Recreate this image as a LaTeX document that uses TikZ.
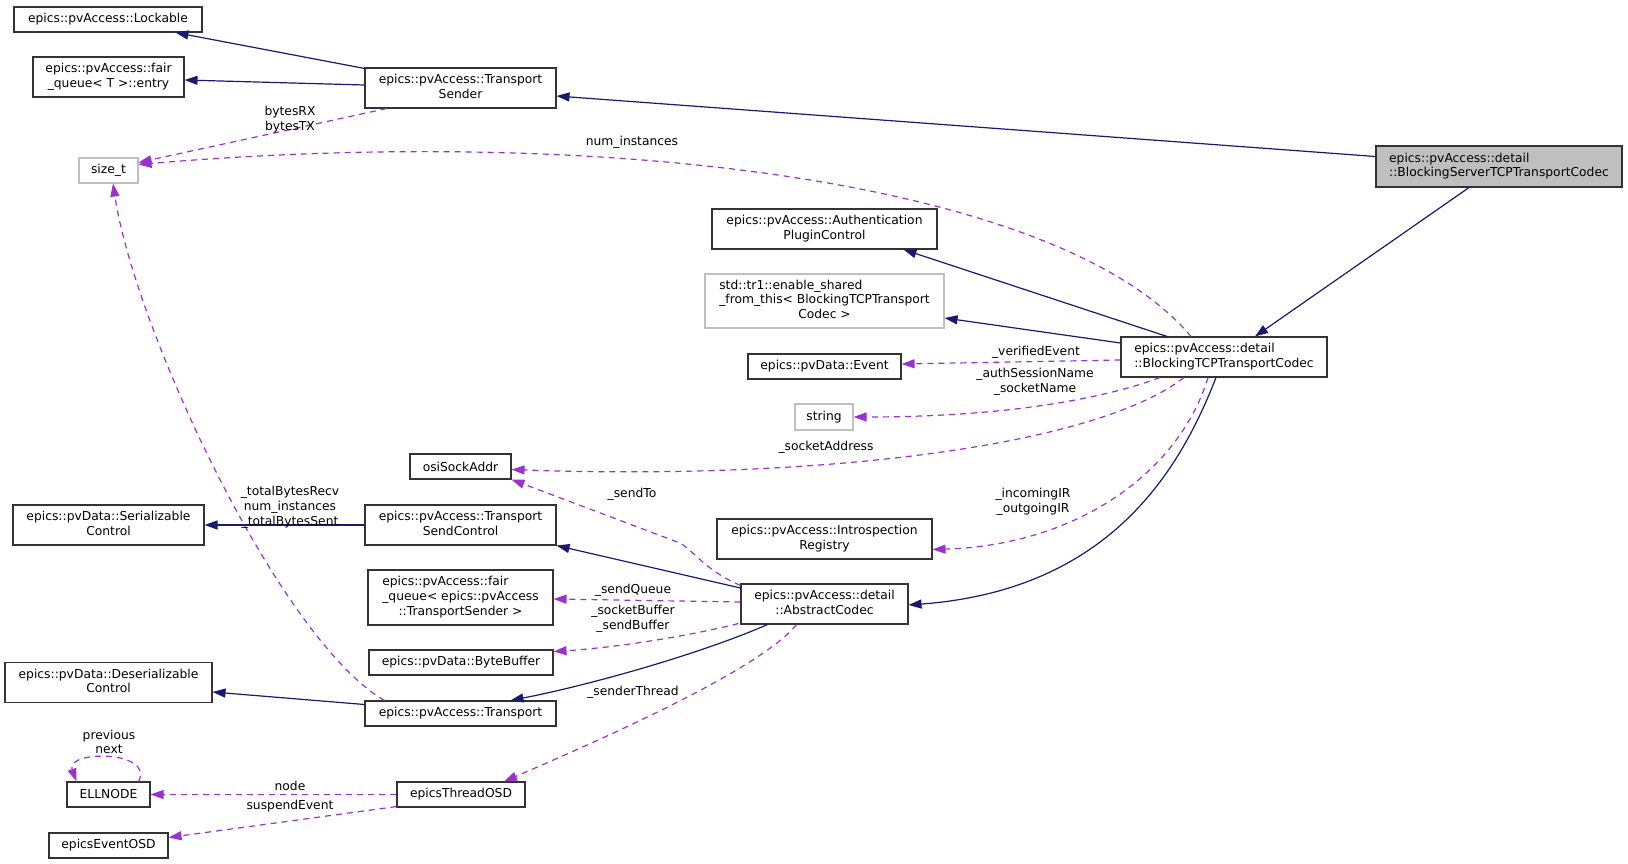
\documentclass[tikz,border=0pt]{standalone}
\usepackage{fontspec}
\setmainfont{DejaVu Sans}
\usetikzlibrary{arrows.meta,calc}
\definecolor{inhc}{HTML}{191970}
\definecolor{usec}{HTML}{9A32CD}
\definecolor{grayb}{HTML}{BFBFBF}
\definecolor{boxc}{HTML}{333333}
\newcommand{\twol}[2]{\begin{tabular}{@{}l@{}}#1\\\multicolumn{1}{@{}c@{}}{#2}\end{tabular}}
\newcommand{\threel}[3]{\begin{tabular}{@{}l@{}}#1\\#2\\\multicolumn{1}{@{}c@{}}{#3}\end{tabular}}
\tikzset{
  cls/.style={draw=boxc, line width=1.1pt, inner sep=0pt, font=\fontsize{12.3}{14.8}\selectfont, align=center},
  ext/.style={cls, draw=grayb},
  inh/.style={draw=inhc, line width=1.2pt, -{Triangle[length=13pt,width=9pt]}},
  use/.style={draw=usec, line width=1.2pt, dash pattern=on 6pt off 5pt, -{Triangle[length=13pt,width=9pt]}},
  lab/.style={font=\fontsize{12.3}{14.8}\selectfont, align=center, inner sep=0pt, text=black}
}
\begin{document}
\begin{tikzpicture}[x=1pt,y=-1pt]
\useasboundingbox (0,0) rectangle (1628,864);
% nodes
\node[cls, minimum width=188pt, minimum height=25pt] (lock) at (108,19.5) {epics::pvAccess::Lockable};
\node[cls, minimum width=151pt, minimum height=40pt] (entry) at (108.5,77) {\twol{epics::pvAccess::fair}{\_queue< T >::entry}};
\node[cls, minimum width=191pt, minimum height=40pt] (tsender) at (460.5,88) {\twol{epics::pvAccess::Transport}{Sender}};
\node[cls, fill=grayb, minimum width=246pt, minimum height=41pt] (bstc) at (1499,166.5) {\twol{epics::pvAccess::detail}{::BlockingServerTCPTransportCodec}};
\node[ext, minimum width=59pt, minimum height=25pt] (sizet) at (108.5,170.5) {size\_t};
\node[cls, minimum width=225pt, minimum height=40pt] (auth) at (824.5,229) {\twol{epics::pvAccess::Authentication}{PluginControl}};
\node[ext, minimum width=239pt, minimum height=54pt] (shared) at (824.5,301) {\threel{std::tr1::enable\_shared}{\_from\_this< BlockingTCPTransport}{Codec >}};
\node[cls, minimum width=153pt, minimum height=25pt] (event) at (824.5,366.5) {epics::pvData::Event};
\node[ext, minimum width=58pt, minimum height=26pt] (string) at (824,417) {string};
\node[cls, minimum width=206pt, minimum height=40pt] (btc) at (1224,357) {\twol{epics::pvAccess::detail}{::BlockingTCPTransportCodec}};
\node[cls, minimum width=101pt, minimum height=25pt] (osi) at (460.5,466.5) {osiSockAddr};
\node[cls, minimum width=191pt, minimum height=40pt] (ser) at (108.5,525) {\twol{epics::pvData::Serializable}{Control}};
\node[cls, minimum width=191pt, minimum height=40pt] (tsc) at (460.5,525) {\twol{epics::pvAccess::Transport}{SendControl}};
\node[cls, minimum width=185pt, minimum height=55pt] (fq) at (460.5,597.5) {\threel{epics::pvAccess::fair}{\_queue< epics::pvAccess}{::TransportSender >}};
\node[cls, minimum width=184pt, minimum height=25pt] (bb) at (461,662.5) {epics::pvData::ByteBuffer};
\node[cls, minimum width=207pt, minimum height=40pt] (deser) at (108.5,682.5) {\twol{epics::pvData::Deserializable}{Control}};
\node[cls, minimum width=191pt, minimum height=25pt] (transport) at (460.5,713.5) {epics::pvAccess::Transport};
\node[cls, minimum width=83pt, minimum height=25pt] (ell) at (108.5,794.5) {ELLNODE};
\node[cls, minimum width=128pt, minimum height=25pt] (thread) at (461,794.5) {epicsThreadOSD};
\node[cls, minimum width=119pt, minimum height=25pt] (eventosd) at (108.5,845.5) {epicsEventOSD};
\node[cls, minimum width=215pt, minimum height=40pt] (intro) at (824.5,539) {\twol{epics::pvAccess::Introspection}{Registry}};
\node[cls, minimum width=167pt, minimum height=40pt] (ac) at (824.5,604) {\twol{epics::pvAccess::detail}{::AbstractCodec}};
% inheritance edges
\draw[inh] ($(tsender.north west)+(0,1)$) -- ($(lock.south west)+(162,0)$);
\draw[inh] ($(tsender.west)+(0,-3)$) -- ($(entry.east)+(0,3)$);
\draw[inh] ($(bstc.west)+(0,-10)$) -- ($(tsender.east)+(0,8)$);
\draw[inh] ($(bstc.south)+(-30,0)$) -- ($(btc.north)+(31,0)$);
\draw[inh] ($(btc.north)+(-57,0)$) -- ($(auth.south)+(79,0)$);
\draw[inh] ($(btc.west)+(0,-14)$) -- ($(shared.east)+(0,17)$);
\draw[inh] ($(btc.south)+(-8,0)$) .. controls (1180,470) and (1110,590) .. ($(ac.east)+(0,1)$);
\draw[inh] ($(ac.west)+(0,-16)$) -- (tsc.south east);
\draw[inh] ($(ac.south)+(-57,0)$) .. controls (700,654) and (590,685) .. ($(transport.north)+(50,0)$);
\draw[inh] ($(transport.west)+(0,-9)$) -- ($(deser.east)+(0,9.5)$);
\draw[inh] (tsc.west) -- (ser.east);
% usage edges
\draw[use] ($(tsender.south)+(-74,0)$) -- ($(sizet.east)+(0,-8)$);
\node[lab] (lbytes) at (290,120) {bytesRX\\bytesTX};
\draw[use] ($(btc.north)+(-33,0)$) .. controls (1060,180) and (600,125) .. ($(sizet.east)+(0,-6)$);
\node[lab] (lnum) at (632,142) {num\_instances};
\draw[use] ($(btc.west)+(0,3)$) -- ($(event.east)+(0,-2.5)$);
\node[lab] (lver) at (1036,352) {\_verifiedEvent};
\draw[use] ($(btc.south)+(-64,0)$) .. controls (1100,400) and (1000,417) .. (string.east);
\node[lab] (lauth) at (1035,382) {\_authSessionName\\\_socketName};
\draw[use] ($(btc.south)+(-40,0)$) .. controls (1090,450) and (800,480) .. ($(osi.east)+(0,3)$);
\node[lab] (lsock) at (826,447.5) {\_socketAddress};
\draw[use] ($(btc.south)+(-16,0)$) .. controls (1180,470) and (1080,545) .. ($(intro.east)+(0,10.5)$);
\node[lab] (lintro) at (1033,502) {\_incomingIR\\\_outgoingIR};
\draw[use] ($(ac.north west)+(0,2)$) .. controls (705,570) and (695,552) .. (680,543) -- (osi.south east);
\node[lab] (lsendto) at (632,494) {\_sendTo};
\draw[use] ($(ac.west)+(0,-2)$) -- ($(fq.east)+(0,1.5)$);
\node[lab] (lsq) at (633,590) {\_sendQueue};
\draw[use] ($(ac.south west)+(-2,-1)$) .. controls (680,638) and (610,648) .. ($(bb.east)+(0,-11)$);
\node[lab] (lsb) at (633,619) {\_socketBuffer\\\_sendBuffer};
\draw[use] ($(ac.south)+(-28,0)$) .. controls (760,670) and (600,740) .. ($(thread.north)+(43,0)$);
\node[lab] (lst) at (633,692) {\_senderThread};
\draw[use] (thread.west) -- (ell.east);
\node[lab] (lnode) at (290,786) {node};
\draw[use] ($(thread.south west)+(0,-1)$) -- ($(eventosd.east)+(0,-8)$);
\node[lab] (lsusp) at (290,806) {suspendEvent};
\draw[use] ($(ell.north east)+(-12,0)$) .. controls (155,750) and (65,750) .. ($(ell.north)+(-32,0)$);
\node[lab] (lprev) at (109,742) {previous\\next};
\draw[use] ($(transport.north)+(-76,0)$) .. controls (280,640) and (135,330) .. ($(sizet.south)+(4.5,0)$);
\node[lab] (ltot) at (290,507.5) {\_totalBytesRecv\\num\_instances\\\_totalBytesSent};
\end{tikzpicture}
\end{document}
